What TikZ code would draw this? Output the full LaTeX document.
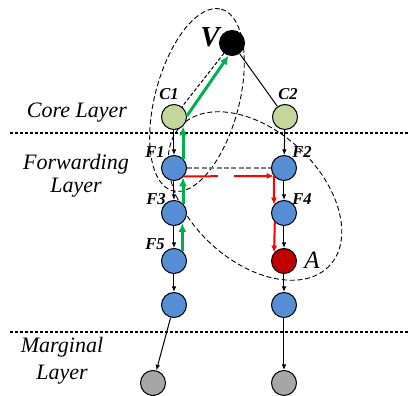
\documentclass[tikz,border=0pt]{standalone}
\usepackage{fontspec}
\setmainfont{Liberation Serif}
\usetikzlibrary{arrows.meta}
\definecolor{cgreen}{HTML}{C3D69B}
\definecolor{fblue}{HTML}{558ED5}
\definecolor{ared}{HTML}{C00000}
\definecolor{mgray}{HTML}{A6A6A6}
\definecolor{pgreen}{HTML}{00B050}
\definecolor{dgray}{HTML}{808080}
\begin{document}
\begin{tikzpicture}[x=0.5pt,y=-0.5pt,
  nd/.style={circle,draw=black,line width=0.5pt,minimum size=12.5pt,inner sep=0pt},
  cnode/.style={nd,fill=cgreen},
  fnode/.style={nd,fill=fblue},
  anode/.style={nd,fill=ared},
  mnode/.style={nd,fill=mgray},
  vnode/.style={nd,fill=black},
  lbl/.style={font=\fontsize{8.3}{9}\selectfont\bfseries\itshape,inner sep=0pt},
  biglbl/.style={font=\fontsize{#1}{#1}\selectfont\itshape,inner sep=0pt},
  layer/.style={font=\fontsize{11}{#1}\selectfont\itshape,align=center,inner sep=0pt},
  sepline/.style={line width=1pt,dash pattern=on 1.6pt off 0.9pt},
  grp/.style={line width=0.45pt,dash pattern=on 2.5pt off 1.4pt},
  link/.style={line width=0.5pt,-{Latex[length=2.8pt,width=2.3pt]}},
  plainlink/.style={line width=0.5pt},
  dashlink/.style={line width=0.5pt,dash pattern=on 1.8pt off 1pt},
  gpath/.style={draw=pgreen,line width=1.5pt,-{Latex[length=4.5pt,width=4pt]}},
  rpath/.style={draw=red,line width=1pt,-{Latex[length=3.5pt,width=3pt]}},
  gdash/.style={draw=dgray,line width=1pt,dash pattern=on 2.5pt off 1.2pt}
]
\useasboundingbox (0,0) rectangle (409,396);

% groups
\draw[grp, rotate around={75:(197,100)}] (197,100) ellipse (94 and 42);
\draw[grp, rotate around={-43:(255,196)}] (255,196) ellipse (102 and 65);

% layer separators
\coordinate (s1a) at (10,133);
\coordinate (s1b) at (409,133);
\coordinate (s2a) at (10,332);
\coordinate (s2b) at (409,332);
\draw[sepline] (s1a) -- (s1b);
\draw[sepline] (s2a) -- (s2b);

% nodes
\node[vnode] (V) at (232,43) {};
\node[cnode] (C1) at (174,117) {};
\node[cnode] (C2) at (285,117) {};
\node[fnode] (F1) at (174,168) {};
\node[fnode] (F2) at (284,168) {};
\node[fnode] (F3) at (174,213) {};
\node[fnode] (F4) at (284,213) {};
\node[fnode] (F5) at (174,261) {};
\node[anode] (A) at (284,261) {};
\node[fnode] (B1) at (174,305) {};
\node[fnode] (B2) at (284,305) {};
\node[mnode] (M1) at (153,383) {};
\node[mnode] (M2) at (284,383) {};

% black links
\draw[dashlink] (V) -- (C1);
\draw[plainlink] (V) -- (C2);
\draw[link] (C1) -- (F1);
\draw[link] (C2) -- (F2);
\draw[link] (F1) -- (F3);
\draw[link] (F3) -- (F5);
\draw[link] (F5) -- (B1);
\draw[link] (B1) -- (M1);
\draw[link] (F2) -- (F4);
\draw[link] (F4) -- (A);
\draw[link] (A) -- (B2);
\draw[link] (B2) -- (M2);

% gray dashed
\draw[gdash] (F1.east) -- (F2.west);

% green path
\draw[gpath] (F5.50) -- (F3.-50);
\draw[gpath] (F3.46) -- (F1.-46);
\draw[gpath] (F1.46) -- (C1.-46);
\draw[gpath] (C1.5) -- (V.255);

% red path
\draw[rpath,dash pattern=on 17pt off 8pt on 60pt off 1pt] (F1.-40) -- (F2.218);
\draw[rpath] (F2.218) -- (F4.140);
\draw[rpath] (F4.225) -- (A.140);

% labels
\node[biglbl=14.5] (lV) at (210,37) {\bfseries V};
\node[biglbl=12.5] (lA) at (312,260) {A};
\node[lbl] (lC1) at (169,94) {C1};
\node[lbl] (lC2) at (288,94) {C2};
\node[lbl] (lF1) at (155,152) {F1};
\node[lbl] (lF2) at (302,152) {F2};
\node[lbl] (lF3) at (156,199) {F3};
\node[lbl] (lF4) at (302,199) {F4};
\node[lbl] (lF5) at (155,244) {F5};

\node[layer=13] (core) at (77,113) {Core Layer};
\node[layer=11.5] (fwd) at (76,176) {Forwarding\\Layer};
\node[layer=13.5] (marg) at (62,361) {Marginal\\Layer};
\end{tikzpicture}
\end{document}
